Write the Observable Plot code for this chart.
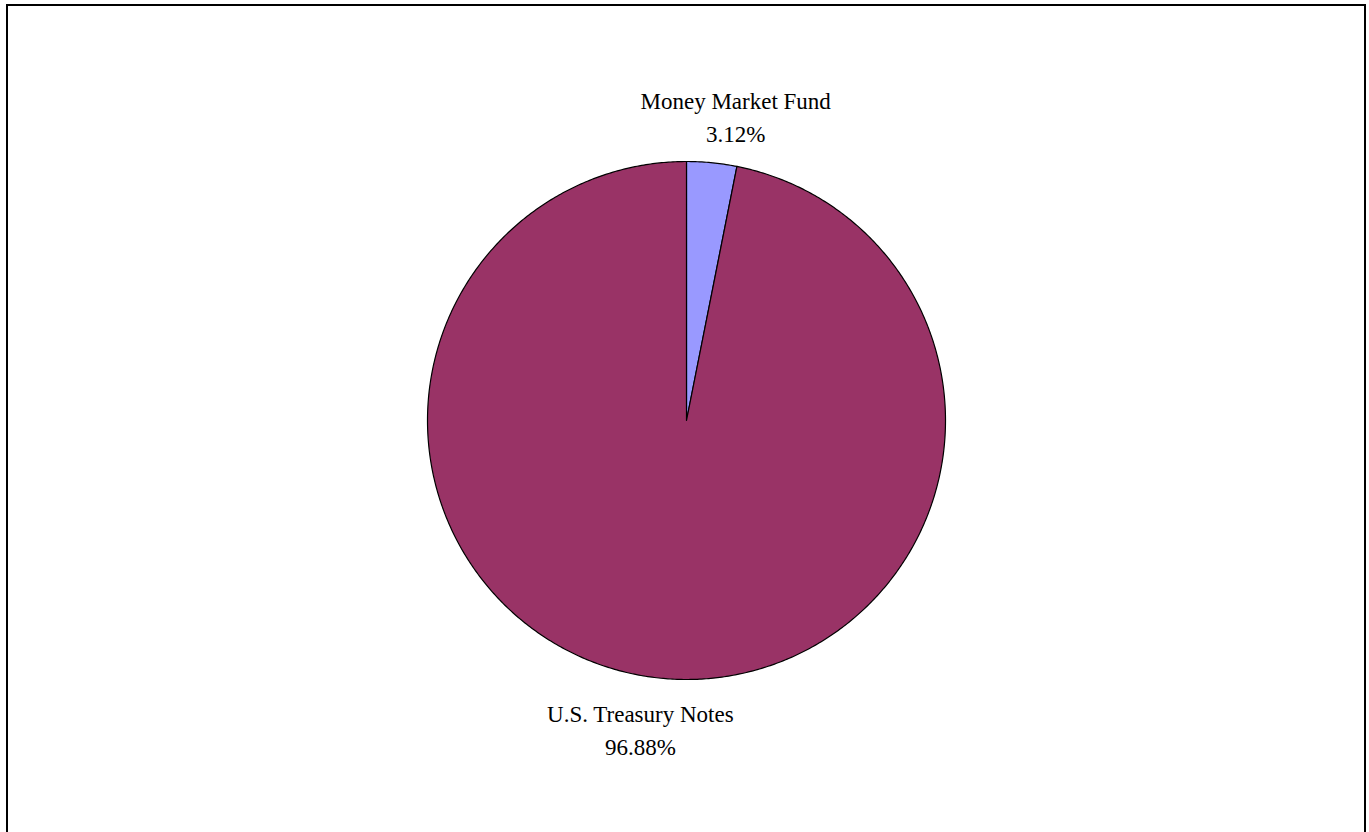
<!DOCTYPE html>
<html><head><meta charset="utf-8">
<script src="https://cdn.jsdelivr.net/npm/d3@7"></script>
<script src="https://cdn.jsdelivr.net/npm/@observablehq/plot@0.6"></script>
<style>
body{margin:0;background:#fff;overflow:hidden}
#chart{position:absolute;left:0;top:0}
#frame{position:absolute;left:6px;top:4px;width:1360px;height:860px;border:2px solid #000;box-sizing:border-box;pointer-events:none}
</style>
</head><body><div id="chart"></div><div id="frame"></div>
<script>
const categories = ["Money Market Fund", "U.S. Treasury Notes"];
const values = [3.12, 96.88];
const labels = ["3.12%", "96.88%"];
const colors = ["#9999FF", "#993366"];

const total = d3.sum(values);
const slices = [];
const labelRows = [];
let start = 0;
categories.forEach((c, i) => {
  const end = start + values[i] / total * 2 * Math.PI;
  slices.push({cat: c, x: 0, y: 0});
  const n = Math.max(2, Math.ceil((end - start) / (Math.PI / 360)));
  for (let k = 0; k <= n; k++) {
    const a = start + (end - start) * k / n;
    slices.push({cat: c, x: Math.sin(a), y: Math.cos(a)});
  }
  const mid = (start + end) / 2;
  labelRows.push({cat: c, text: c + "\n" + labels[i], x: Math.sin(mid) * 1.19, y: Math.cos(mid) * 1.19, side: Math.sign(Math.sin(mid))});
  start = end;
});

const chart = Plot.plot({
  width: 1369,
  height: 832,
  margin: 0,
  x: {domain: [-1, 1], range: [427, 945], axis: null},
  y: {domain: [-1, 1], range: [679, 161], axis: null},
  color: {domain: categories, range: colors},
  marks: [
    Plot.line(slices, {x: "x", y: "y", z: "cat", fill: "cat", stroke: "#000", strokeWidth: 1.2, curve: "linear-closed"}),
    Plot.text(labelRows.filter(d => d.side > 0), {x: "x", y: "y", text: "text", dx: 19, dy: 1, fontSize: 23, lineHeight: 1.43, fontFamily: "Liberation Serif", fill: "#000"}),
    Plot.text(labelRows.filter(d => d.side <= 0), {x: "x", y: "y", text: "text", dx: -16, dy: 1, fontSize: 23, lineHeight: 1.43, fontFamily: "Liberation Serif", fill: "#000"})
  ]
});
document.getElementById("chart").appendChild(chart);
</script>
</body></html>
